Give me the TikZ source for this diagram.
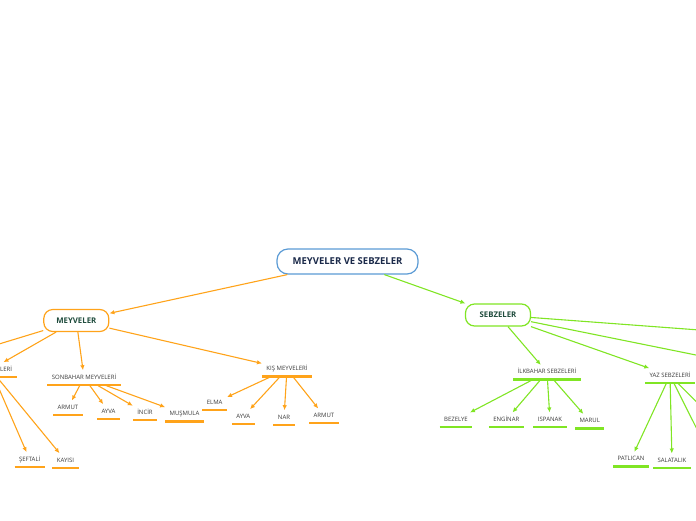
\documentclass[tikz,border=0pt]{standalone}
\usepackage{fontspec}
\setmainfont{Open Sans}
\usetikzlibrary{arrows.meta}
\definecolor{mmorange}{HTML}{FFA31A}
\definecolor{mmgreen}{HTML}{80E524}
\definecolor{mmblue}{HTML}{5B9BD5}
\definecolor{mmnavy}{HTML}{1B2A4A}
\definecolor{mmdark}{HTML}{1E4B3C}
\definecolor{mmtext}{HTML}{3A3A3A}
\tikzset{
  rootbox/.style={draw=mmblue, fill=white, line width=1.2pt, rounded corners=11pt,
    minimum width=141pt, minimum height=25pt, text=mmnavy,
    font=\fontsize{9.5}{11}\selectfont\bfseries},
  mainbox/.style={draw=#1, fill=white, line width=1.2pt, rounded corners=9pt,
    minimum width=65pt, minimum height=22pt, text=mmdark,
    font=\fontsize{7.8}{9}\selectfont\bfseries},
  leaf/.style={font=\fontsize{6}{7}\selectfont, text=mmtext,
    inner xsep=4.3pt, inner ysep=4.35pt, text height=4.5pt, text depth=1pt,
    append after command={(\tikzlastnode.south west)
      edge[draw=#1, line width=2.1pt] (\tikzlastnode.south east)}},
  arr/.style={-{Latex[length=5pt,width=4.5pt]}, line width=1.1pt, draw=#1},
}
\begin{document}
\begin{tikzpicture}[x=1pt, y=-1pt]
  \path[use as bounding box] (0,0) rectangle (696,520);
  \clip (0,0) rectangle (696,520);

  \node[rootbox] (root) at (347.5,261.5) {MEYVELER VE SEBZELER};
  \node[mainbox=mmorange] (mey) at (76.3,320.5) {MEYVELER};
  \node[mainbox=mmgreen] (seb) at (498,315) {SEBZELER};

  \node[leaf=mmorange] (yazm) at (-9.3,369.5) {YAZ MEYVELERİ};
  \node[leaf=mmorange] (sonb) at (84,377.5) {SONBAHAR MEYVELERİ};
  \node[leaf=mmorange] (kis) at (287,369.2) {KIŞ MEYVELERİ};
  \node[leaf=mmorange] (seftali) at (29.7,459.5) {ŞEFTALİ};
  \node[leaf=mmorange] (kayisi) at (65.5,460.5) {KAYISI};
  \node[leaf=mmorange] (armuta) at (68,407.8) {ARMUT};
  \node[leaf=mmorange] (ayvaa) at (108.5,411.5) {AYVA};
  \node[leaf=mmorange] (incir) at (145,412.8) {İNCİR};
  \node[leaf=mmorange] (musmula) at (184.5,414.2) {MUŞMULA};
  \node[leaf=mmorange] (elma) at (214.7,402.8) {ELMA};
  \node[leaf=mmorange] (ayvab) at (243.3,416.5) {AYVA};
  \node[leaf=mmorange] (nar) at (284,417.5) {NAR};
  \node[leaf=mmorange] (armutb) at (324,415.8) {ARMUT};

  \node[leaf=mmgreen] (ilk) at (547,372.2) {İLKBAHAR SEBZELERİ};
  \node[leaf=mmgreen] (yazs) at (670,375.5) {YAZ SEBZELERİ};
  \node[leaf=mmgreen] (bezelye) at (456,419.8) {BEZELYE};
  \node[leaf=mmgreen] (enginar) at (506.3,419.8) {ENGİNAR};
  \node[leaf=mmgreen] (ispanak) at (550,419.8) {ISPANAK};
  \node[leaf=mmgreen] (marul) at (589.7,421.2) {MARUL};
  \node[leaf=mmgreen] (patlican) at (631,459.2) {PATLICAN};
  \node[leaf=mmgreen] (salatalik) at (672,460.8) {SALATALIK};

  \coordinate (offl) at (-60,362);
  \coordinate (offra) at (780,336);
  \coordinate (offrb) at (780,372);
  \coordinate (offya) at (720,475);
  \coordinate (offyb) at (760,465);

  \draw[arr=mmorange] (root) -- (mey);
  \draw[arr=mmgreen] (root) -- (seb);

  \draw[arr=mmorange] (mey) -- (offl);
  \foreach \n in {yazm,sonb,kis}
    \draw[arr=mmorange] (mey) -- (\n);
  \foreach \n in {seftali,kayisi}
    \draw[arr=mmorange] (yazm) -- (\n);
  \foreach \n in {armuta,ayvaa,incir,musmula}
    \draw[arr=mmorange] (sonb) -- (\n);
  \foreach \n in {elma,ayvab,nar,armutb}
    \draw[arr=mmorange] (kis) -- (\n);

  \foreach \n in {ilk,yazs,offra,offrb}
    \draw[arr=mmgreen] (seb) -- (\n);
  \foreach \n in {bezelye,enginar,ispanak,marul}
    \draw[arr=mmgreen] (ilk) -- (\n);
  \foreach \n in {patlican,salatalik,offya,offyb}
    \draw[arr=mmgreen] (yazs) -- (\n);
\end{tikzpicture}
\end{document}
